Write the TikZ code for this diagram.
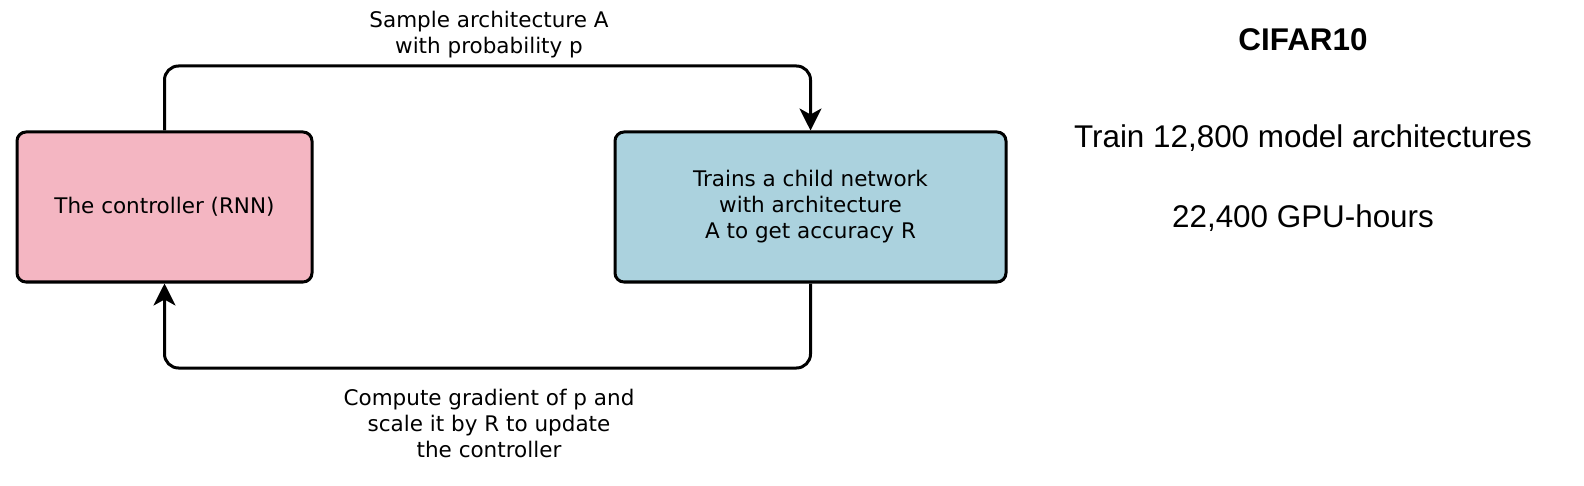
\documentclass[tikz,border=0pt]{standalone}
\usepackage{fontspec}
\setmainfont{DejaVu Sans}
\newfontfamily\statfont{Liberation Sans}
\usetikzlibrary{arrows.meta}

\definecolor{ctrlpink}{RGB}{244,182,194}
\definecolor{childblue}{RGB}{171,210,222}

\tikzset{
  stepbox/.style={draw=black, line width=1.5pt, rounded corners=4.5pt, align=center,
                  minimum height=75pt, inner sep=0pt},
  flow/.style={line width=1.5pt, rounded corners=7pt,
               -{Stealth[length=11pt,width=11pt,inset=3pt]}},
  flowtext/.style={align=center, inner sep=0pt},
  stattext/.style={font=\statfont\fontsize{15.7}{18}\selectfont, inner sep=0pt}
}

\begin{document}
\begin{tikzpicture}[x=0.5pt,y=-0.5pt,font=\fontsize{10.75}{13}\selectfont]
\useasboundingbox (0,0) rectangle (1584,486);

% the two boxes
\node[stepbox, fill=ctrlpink, minimum width=147.5pt] (ctrl) at (164.5,207) {The controller (RNN)};
\node[stepbox, fill=childblue, minimum width=195.5pt] (child) at (810.5,207)
  {Trains a child network\\with architecture\\A to get accuracy R};

% loop corners
\coordinate (toprow) at (489,66);
\coordinate (botrow) at (489,368);

\draw[flow] (ctrl.north) |- (toprow) -| (child.north);
\draw[flow] (child.south) |- (botrow) -| (ctrl.south);

% labels of the loop
\node[flowtext] (samplelbl) at (489,35) {Sample architecture A\\with probability p};
\node[flowtext] (gradlbl) at (489,423) {Compute gradient of p and\\scale it by R to update\\the controller};

% numbers on the right
\node[stattext, font=\statfont\bfseries\fontsize{15.7}{18}\selectfont] (dataset) at (1303,40) {CIFAR10};
\node[stattext] (models) at (1303,138) {Train 12,800 model architectures};
\node[stattext] (hours) at (1303,218) {22,400 GPU-hours};
\end{tikzpicture}
\end{document}
